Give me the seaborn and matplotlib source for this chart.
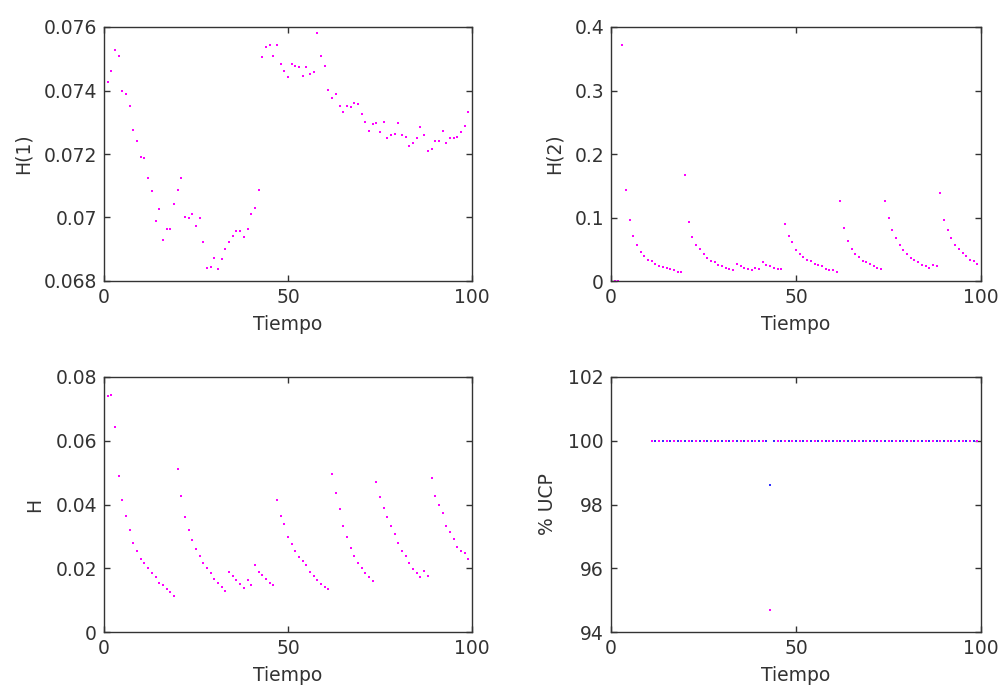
import numpy as np
import pandas as pd
import matplotlib
matplotlib.use("Agg")
import matplotlib.pyplot as plt
import seaborn as sns

# ---------------- data ----------------
tiempo = list(range(1, 100))

h1 = [0.07428, 0.07462, 0.07529, 0.07508, 0.07399, 0.07389, 0.07352, 0.07276, 0.07242, 0.07192,
      0.07188, 0.07124, 0.07082, 0.06989, 0.07026, 0.06930, 0.06964, 0.06964, 0.07043, 0.07086,
      0.07124, 0.07001, 0.06997, 0.07010, 0.06972, 0.06997, 0.06922, 0.06841, 0.06845, 0.06874,
      0.06837, 0.06870, 0.06901, 0.06922, 0.06943, 0.06959, 0.06959, 0.06938, 0.06964, 0.07010,
      0.07031, 0.07086, 0.07504, 0.07537, 0.07542, 0.07508, 0.07542, 0.07483, 0.07462, 0.07441,
      0.07483, 0.07478, 0.07474, 0.07445, 0.07474, 0.07453, 0.07457, 0.07580, 0.07508, 0.07478,
      0.07402, 0.07377, 0.07389, 0.07352, 0.07331, 0.07352, 0.07347, 0.07360, 0.07356, 0.07326,
      0.07301, 0.07272, 0.07293, 0.07297, 0.07268, 0.07301, 0.07251, 0.07259, 0.07263, 0.07297,
      0.07259, 0.07255, 0.07226, 0.07234, 0.07251, 0.07284, 0.07259, 0.07209, 0.07217, 0.07242,
      0.07242, 0.07272, 0.07234, 0.07251, 0.07251, 0.07255, 0.07268, 0.07289, 0.07331]

h2 = [0.0, 0.0, 0.371, 0.143, 0.0964, 0.0713, 0.0566, 0.0461, 0.0398, 0.0335,
      0.0314, 0.0273, 0.0241, 0.0220, 0.0210, 0.0189, 0.0168, 0.0147, 0.0147, 0.1667,
      0.0922, 0.0692, 0.0566, 0.0503, 0.0419, 0.0356, 0.0314, 0.0294, 0.0252, 0.0231,
      0.0210, 0.0189, 0.0168, 0.0273, 0.0231, 0.0210, 0.0189, 0.0168, 0.0210, 0.0189,
      0.0294, 0.0252, 0.0231, 0.0210, 0.0189, 0.0189, 0.0901, 0.0713, 0.0608, 0.0482,
      0.0419, 0.0377, 0.0335, 0.0314, 0.0273, 0.0252, 0.0231, 0.0189, 0.0168, 0.0168,
      0.0147, 0.1263, 0.0839, 0.0629, 0.0503, 0.0419, 0.0377, 0.0314, 0.0294, 0.0273,
      0.0231, 0.0210, 0.0189, 0.1263, 0.0985, 0.0797, 0.0671, 0.0566, 0.0482, 0.0419,
      0.0356, 0.0335, 0.0294, 0.0252, 0.0231, 0.0210, 0.0252, 0.0231, 0.1389, 0.0964,
      0.0797, 0.0671, 0.0566, 0.0503, 0.0440, 0.0398, 0.0335, 0.0314, 0.0273]

h = [0.0739, 0.0744, 0.0642, 0.0490, 0.0415, 0.0365, 0.0319, 0.0280, 0.0255, 0.0230,
     0.0218, 0.0201, 0.0184, 0.0172, 0.0155, 0.0146, 0.0134, 0.0125, 0.0112, 0.0512,
     0.0428, 0.0361, 0.0319, 0.0289, 0.0259, 0.0238, 0.0218, 0.0201, 0.0184, 0.0167,
     0.0155, 0.0142, 0.0130, 0.0188, 0.0176, 0.0163, 0.0151, 0.0138, 0.0163, 0.0146,
     0.0209, 0.0188, 0.0180, 0.0167, 0.0155, 0.0146, 0.0415, 0.0365, 0.0340, 0.0297,
     0.0276, 0.0255, 0.0234, 0.0222, 0.0209, 0.0188, 0.0176, 0.0163, 0.0151, 0.0142,
     0.0134, 0.0495, 0.0436, 0.0386, 0.0332, 0.0297, 0.0264, 0.0238, 0.0218, 0.0201,
     0.0184, 0.0172, 0.0159, 0.0470, 0.0424, 0.0390, 0.0361, 0.0332, 0.0306, 0.0280,
     0.0255, 0.0238, 0.0218, 0.0197, 0.0184, 0.0172, 0.0192, 0.0176, 0.0482, 0.0428,
     0.0398, 0.0373, 0.0332, 0.0314, 0.0293, 0.0268, 0.0255, 0.0247, 0.0230]

tiempo_ucp = list(range(11, 100))
ucp_a = [94.7 if t == 43 else 100.0 for t in tiempo_ucp]   # magenta series
ucp_b = [98.6 if t == 43 else 100.0 for t in tiempo_ucp]   # blue series

# ---------------- style ----------------
sns.set_style("ticks")
plt.rcParams['font.family'] = ['DejaVu Sans']
plt.rcParams['xtick.direction'] = 'in'
plt.rcParams['ytick.direction'] = 'in'

fig = plt.figure(figsize=(10.02, 6.86), dpi=100)
W, H = 1002, 686

def make_ax(l, r, t, b):
    return fig.add_axes([l / W, 1 - b / H, (r - l) / W, (b - t) / H])

ax1 = make_ax(104, 472, 27, 281)
ax2 = make_ax(611, 981, 27, 281)
ax3 = make_ax(104, 472, 377, 632)
ax4 = make_ax(611, 981, 377, 632)

mag = '#ff00ff'
kw = dict(marker='s', s=2.2, linewidth=0, legend=False)

sns.scatterplot(x=tiempo, y=h1, ax=ax1, color=mag, **kw)
sns.scatterplot(x=tiempo, y=h2, ax=ax2, color=mag, **kw)
sns.scatterplot(x=tiempo, y=h, ax=ax3, color=mag, **kw)
sns.scatterplot(x=tiempo_ucp, y=ucp_b, ax=ax4, color='#3030ff', **kw)
sns.scatterplot(x=tiempo_ucp[::2], y=ucp_a[::2], ax=ax4, color=mag, **kw)
sns.scatterplot(x=tiempo_ucp, y=[v if t == 43 else np.nan for t, v in zip(tiempo_ucp, ucp_a)],
                ax=ax4, color=mag, **kw)

txt = '#333333'
specs = [
    (ax1, (0.068, 0.076), [0.068, 0.07, 0.072, 0.074, 0.076], ['0.068', '0.07', '0.072', '0.074', '0.076'], 'H(1)'),
    (ax2, (0, 0.4), [0, 0.1, 0.2, 0.3, 0.4], ['0', '0.1', '0.2', '0.3', '0.4'], 'H(2)'),
    (ax3, (0, 0.08), [0, 0.02, 0.04, 0.06, 0.08], ['0', '0.02', '0.04', '0.06', '0.08'], 'H'),
    (ax4, (94, 102), [94, 96, 98, 100, 102], ['94', '96', '98', '100', '102'], '% UCP'),
]
for ax, ylim, yt, ytl, ylab in specs:
    ax.set_xlim(0, 100)
    ax.set_ylim(*ylim)
    ax.set_xticks([0, 50, 100])
    ax.set_xticklabels(['0', '50', '100'])
    ax.set_yticks(yt)
    ax.set_yticklabels(ytl)
    ax.tick_params(axis='both', which='both', direction='in', length=4, width=1,
                   top=True, right=True, labelsize=13.5, colors='#333333', labelcolor=txt)
    ax.tick_params(axis='y', pad=5)
    ax.tick_params(axis='x', pad=5)
    ax.set_xlabel('Tiempo', fontsize=13.5, color=txt, labelpad=6)
    ax.set_ylabel(ylab, fontsize=13.5, color=txt, labelpad=8)
    for sp in ax.spines.values():
        sp.set_visible(True)
        sp.set_color('#333333')
        sp.set_linewidth(1)

fig.savefig('out.png', dpi=100, facecolor='white')
